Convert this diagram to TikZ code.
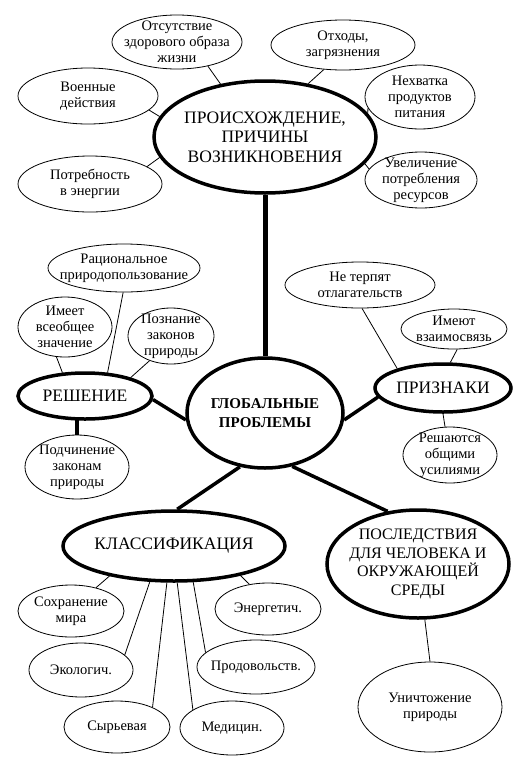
\documentclass[tikz,border=0pt]{standalone}
\usepackage{fontspec}
\setmainfont{Liberation Serif}
\usetikzlibrary{shapes.geometric, backgrounds}

\begin{document}
\begin{tikzpicture}[x=1pt, y=-1pt,
    leaf/.style={ellipse, draw, line width=0.8pt, fill=white, align=center,
                 inner xsep=-60pt, inner ysep=-30pt,
                 font=\fontsize{14.5}{16}\selectfont},
    hub/.style={leaf, line width=3.5pt, font=\fontsize{17.5}{19.5}\selectfont},
    twig/.style={line width=0.8pt},
    bough/.style={line width=3.5pt},
  ]
    \useasboundingbox (0,0) rectangle (521,761);

    % Centre
    \node[hub, minimum width=156, minimum height=110,
          font=\fontsize{15}{19}\selectfont\bfseries] (glob) at (265,413)
      {ГЛОБАЛЬНЫЕ\\ ПРОБЛЕМЫ};

    % Main branches
    \foreach \nm/\x/\y/\rx/\ry/\txt in {%
      top/265/137/111/56/{ПРОИСХОЖДЕНИЕ,\\ ПРИЧИНЫ\\ ВОЗНИКНОВЕНИЯ},
      resh/85/396/67/23/{РЕШЕНИЕ},
      prizn/443/388/68/24/{ПРИЗНАКИ},
      klass/174/546/111/35/{КЛАССИФИКАЦИЯ}}{
      \node[hub, minimum width=2*\rx, minimum height=2*\ry] (\nm) at (\x,\y) {\txt};
    }
    \node[hub, minimum width=182, minimum height=108,
          font=\fontsize{16}{18.5}\selectfont] (posl) at (418,564)
      {ПОСЛЕДСТВИЯ\\ ДЛЯ ЧЕЛОВЕКА И\\ ОКРУЖАЮЩЕЙ\\ СРЕДЫ};

    % Leaves
    \foreach \nm/\x/\y/\rx/\ry/\txt in {%
      otsut/177/42/65/27/{Отсутствие\\ здорового образа\\ жизни},
      voen/88/96/70/28/{Военные\\ действия},
      potr/90/184/72/28/{Потребность\\ в энергии},
      othod/343/45/72/25/{Отходы,\\ загрязнения},
      nehv/420/97/55/32/{Нехватка\\ продуктов\\ питания},
      uvel/421/180/56/28/{Увеличение\\ потребления\\ ресурсов},
      rac/124/268/76/24/{Рациональное\\ природопользование},
      imeet/65/327/47/30/{Имеет\\ всеобщее\\ значение},
      pozn/171/336/43/28/{Познание\\ законов\\ природы},
      podch/77/467/52/32/{Подчинение\\ законам\\ природы},
      neterp/360/285/75/23/{Не терпят\\ отлагательств},
      imeut/454/329/53/20/{Имеют\\ взаимосвязь},
      reshaut/450/455/47/28/{Решаются\\ общими\\ усилиями},
      sohr/71/611/53/26/{Сохранение\\ мира},
      ekol/81/670/52/27/{Экологич.},
      syr/117/727/53/26/{Сырьевая},
      med/232/728/52/27/{Медицин.},
      prod/256/667/59/27/{Продовольств.},
      energ/268/609/53/26/{Энергетич.},
      unich/430/707/72/45/{Уничтожение\\ природы}}{
      \node[leaf, minimum width=2*\rx, minimum height=2*\ry] (\nm) at (\x,\y) {\txt};
    }

    \begin{scope}[on background layer]
      % Thin links
      \foreach \a/\aa/\b/\bb in {voen/-13/top/169, potr/17/top/191,
        otsut/-38/top/130, othod/232/top/51, nehv/192/top/13, uvel/168/top/-15,
        rac/268/resh/46, imeet/254/resh/134, pozn/229/resh/22,
        neterp/-85/prizn/157, imeut/-81/prizn/74, prizn/-90/reshaut/100,
        posl/-83/unich/90, klass/205/sohr/43, klass/236/ekol/19,
        klass/259/syr/29, klass/275/med/155, klass/298/prod/164,
        klass/336/energ/127}
        \draw[twig] (\a.\aa) -- (\b.\bb);
      % Thick links
      \draw[bough, line width=5pt] (top.south) -- (glob.north);
      \foreach \a/\aa/\b/\bb in {resh/-3/glob/185, glob/-5/prizn/188,
        glob/245/klass/85, glob/-63/posl/120}
        \draw[bough] (\a.\aa) -- (\b.\bb);
      \draw[bough] (podch.north) -- (podch.north |- resh.center);
    \end{scope}
\end{tikzpicture}
\end{document}
